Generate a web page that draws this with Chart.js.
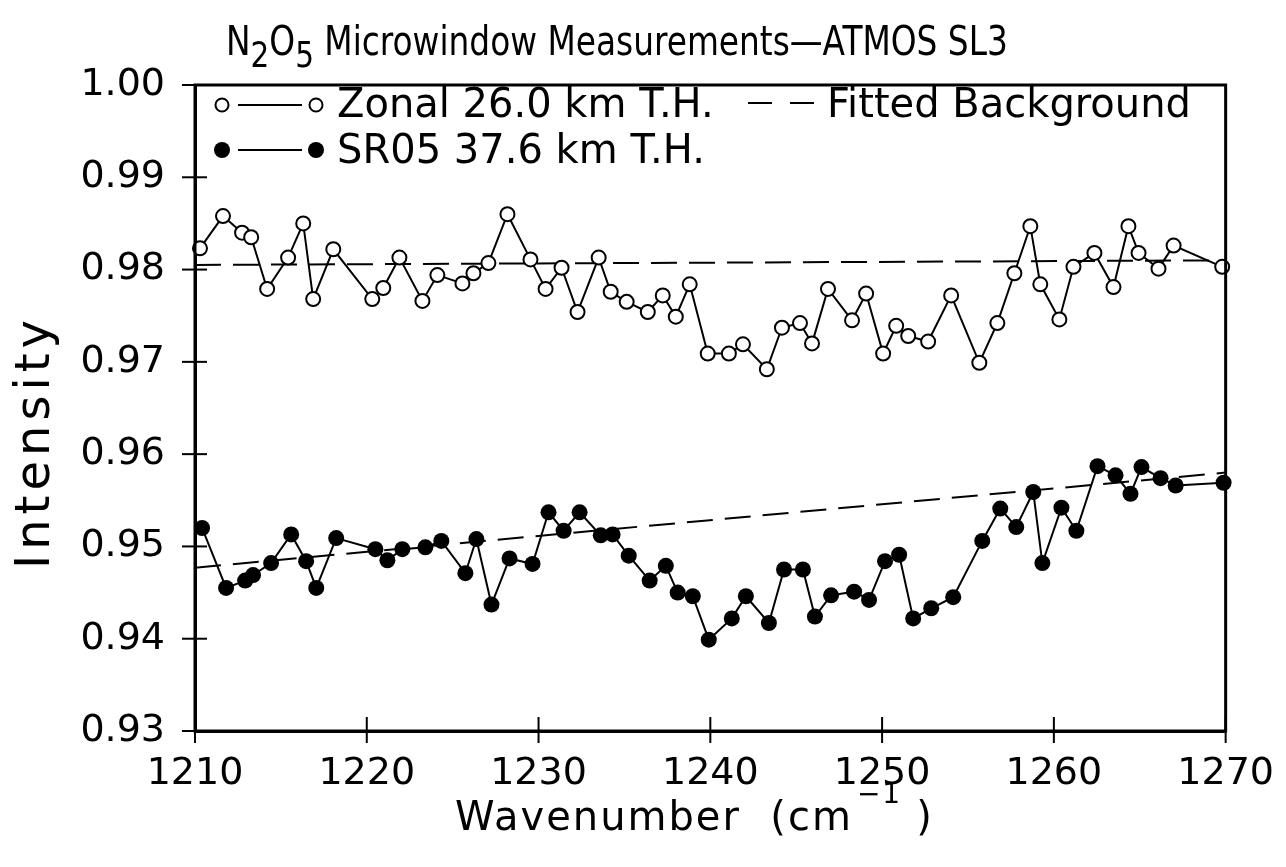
<!DOCTYPE html>
<html>
<head>
<meta charset="utf-8">
<script src="https://cdn.jsdelivr.net/npm/chart.js@4.4.1/dist/chart.umd.min.js"></script>
<style>
  html,body{margin:0;padding:0;background:#fff;}
  #wrap{width:1286px;height:867px;position:relative;}
</style>
</head>
<body>
<div id="wrap"><canvas id="c"></canvas></div>
<script>
// Zonal 26.0 km T.H. (open circles)
const zonalX = [1210.29,1211.63,1212.74,1213.27,1214.20,1215.42,1216.30,1216.88,1218.05,1220.32,
  1220.96,1221.90,1223.24,1224.11,1225.57,1226.21,1227.08,1228.19,1229.53,1230.41,
  1231.34,1232.27,1233.50,1234.20,1235.13,1236.36,1237.23,1237.99,1238.80,1239.85,
  1241.08,1241.90,1243.29,1244.17,1245.22,1245.92,1246.85,1248.25,1249.07,1250.06,
  1250.82,1251.52,1252.68,1254.02,1255.66,1256.71,1257.70,1258.63,1259.21,1260.32,
  1261.14,1262.36,1263.47,1264.34,1264.93,1266.09,1266.97,1269.80];
const zonalY = [0.9823,0.9858,0.9840,0.9835,0.9779,0.9813,0.9850,0.9768,0.9822,0.9768,
  0.9780,0.9813,0.9766,0.9794,0.9785,0.9796,0.9807,0.9860,0.9811,0.9779,
  0.9802,0.9754,0.9813,0.9776,0.9765,0.9754,0.9772,0.9749,0.9784,0.9709,
  0.9709,0.9719,0.9692,0.9737,0.9742,0.9720,0.9779,0.9745,0.9774,0.9709,
  0.9739,0.9728,0.9722,0.9772,0.9699,0.9742,0.9796,0.9847,0.9784,0.9746,
  0.9803,0.9818,0.9781,0.9847,0.9818,0.9801,0.9826,0.9803];

// SR05 37.6 km T.H. (filled circles)
const srX = [1210.41,1211.81,1212.92,1213.38,1214.43,1215.60,1216.47,1217.06,1218.22,1220.50,
  1221.20,1222.07,1223.41,1224.34,1225.74,1226.38,1227.26,1228.31,1229.65,1230.58,
  1231.46,1232.39,1233.62,1234.31,1235.25,1236.47,1237.41,1238.10,1238.98,1239.91,
  1241.25,1242.07,1243.41,1244.29,1245.39,1246.09,1247.03,1248.37,1249.24,1250.17,
  1250.99,1251.81,1252.86,1254.14,1255.83,1256.88,1257.81,1258.80,1259.33,1260.44,
  1261.31,1262.54,1263.59,1264.46,1265.10,1266.21,1267.09,1269.88];
const srY = [0.9520,0.9455,0.9463,0.9469,0.9482,0.9513,0.9484,0.9455,0.9509,0.9497,
  0.9485,0.9497,0.9499,0.9506,0.9471,0.9508,0.9437,0.9487,0.9481,0.9537,
  0.9517,0.9537,0.9512,0.9513,0.9490,0.9463,0.9479,0.9450,0.9446,0.9399,
  0.9422,0.9446,0.9417,0.9475,0.9475,0.9424,0.9447,0.9451,0.9442,0.9484,
  0.9491,0.9422,0.9433,0.9445,0.9506,0.9541,0.9521,0.9559,0.9482,0.9542,
  0.9517,0.9587,0.9577,0.9557,0.9586,0.9574,0.9566,0.9569];

// fitted backgrounds
const fitX = [1210, 1270];
const zonalFit = [0.9805, 0.9810];
const srFit = [0.9477, 0.9580];

const xTicks = [1210,1220,1230,1240,1250,1260,1270];
const yTicks = [0.93,0.94,0.95,0.96,0.97,0.98,0.99,1.00];

const FONT = 'DejaVu Sans';
const pts = (xs, ys) => xs.map((x,i)=>({x, y:ys[i]}));

const extras = {
  id:'extras',
  beforeDraw(chart){
    const ctx=chart.ctx;
    ctx.save(); ctx.fillStyle='#fff'; ctx.fillRect(0,0,chart.width,chart.height); ctx.restore();
  },
  afterDraw(chart){
    const ctx=chart.ctx, a=chart.chartArea;
    const xs=chart.scales.x, ys=chart.scales.y;
    ctx.save();
    ctx.strokeStyle='#000'; ctx.fillStyle='#000';
    // frame
    ctx.lineWidth=3;
    ctx.strokeRect(a.left, a.top, a.right-a.left, a.bottom-a.top);
    // tick marks crossing the axes
    ctx.lineWidth=2;
    yTicks.forEach(v=>{
      const y=ys.getPixelForValue(v);
      ctx.beginPath(); ctx.moveTo(a.left-13,y); ctx.lineTo(a.left+12,y); ctx.stroke();
    });
    xTicks.forEach(v=>{
      const x=xs.getPixelForValue(v);
      ctx.beginPath(); ctx.moveTo(x,a.bottom+12); ctx.lineTo(x,a.bottom-14); ctx.stroke();
    });

    // title with subscripts (narrow lettering like the original)
    ctx.textBaseline='alphabetic'; ctx.textAlign='left';
    ctx.save();
    ctx.translate(226,0); ctx.scale(0.82,1);
    let tx=0; const tb=55;
    const seg=(t,size,dy)=>{ ctx.font=size+'px '+FONT; ctx.fillText(t,tx,tb+dy); tx+=ctx.measureText(t).width; };
    seg('N',40,0); seg('2',36,12); seg('O',40,0); seg('5',36,12);
    seg(' Microwindow Measurements\u2014ATMOS SL3',40,0);
    ctx.restore();

    // legend
    ctx.lineWidth=2;
    const legRow=(y,filled)=>{
      ctx.beginPath(); ctx.moveTo(238,y); ctx.lineTo(302,y); ctx.stroke();
      [222,316].forEach(cx=>{
        ctx.beginPath(); ctx.arc(cx,y,filled?8:6.5,0,Math.PI*2);
        if(filled){ ctx.fill(); } else { ctx.fillStyle='#fff'; ctx.fill(); ctx.fillStyle='#000'; ctx.stroke(); }
      });
    };
    legRow(105,false); legRow(150,true);
    ctx.font='40px '+FONT;
    ctx.fillText('Zonal 26.0 km T.H.',337,117);
    ctx.fillText('SR05 37.6 km T.H.',337,163);
    ctx.setLineDash([24,18]);
    ctx.beginPath(); ctx.moveTo(748,103); ctx.lineTo(814,103); ctx.stroke();
    ctx.setLineDash([]);
    ctx.fillText('Fitted Background',827,117);

    // y axis title
    ctx.save();
    ctx.translate(49,442); ctx.rotate(-Math.PI/2);
    ctx.font='48px '+FONT; ctx.textAlign='center';
    ctx.letterSpacing='5px';
    ctx.fillText('Intensity',0,0);
    ctx.restore();

    // x axis title
    ctx.letterSpacing='2px';
    let bx=455;
    ctx.font='40px '+FONT;
    ctx.fillText('Wavenumber  (cm',bx,830); bx+=ctx.measureText('Wavenumber  (cm').width+4;
    ctx.font='28px '+FONT;
    ctx.fillText('\u22121',bx,803); bx+=ctx.measureText('\u22121').width+14;
    ctx.font='40px '+FONT;
    ctx.fillText(')',bx,830);
    ctx.restore();
  }
};

new Chart(document.getElementById('c'),{
  type:'scatter',
  data:{datasets:[
    {label:'Zonal 26.0 km T.H.', data:pts(zonalX,zonalY), showLine:true,
     borderColor:'#000', borderWidth:2, pointRadius:7, pointBorderWidth:2,
     pointBackgroundColor:'#fff', pointBorderColor:'#000', clip:false, order:1},
    {label:'SR05 37.6 km T.H.', data:pts(srX,srY), showLine:true,
     borderColor:'#000', borderWidth:2, pointRadius:8, pointBorderWidth:0,
     pointBackgroundColor:'#000', pointBorderColor:'#000', clip:false, order:1},
    {label:'Fitted Background', data:pts(fitX,zonalFit), showLine:true,
     borderColor:'#000', borderWidth:2, borderDash:[26,12], pointRadius:0, order:2},
    {label:'Fitted Background SR05', data:pts(fitX,srFit), showLine:true,
     borderColor:'#000', borderWidth:2, borderDash:[26,12], pointRadius:0, order:2}
  ]},
  options:{
    responsive:true, maintainAspectRatio:false, animation:false,
    layout:{padding:{left:0,right:55,top:85,bottom:0}},
    plugins:{legend:{display:false}, tooltip:{enabled:false}},
    scales:{
      x:{type:'linear', min:1210, max:1270,
        afterBuildTicks:s=>{ s.ticks = xTicks.map(v=>({value:v})); },
        afterFit:s=>{ s.height=136; },
        grid:{display:false}, border:{display:true,color:'#000',width:3},
        ticks:{color:'#000', padding:12, maxRotation:0, font:{family:FONT,size:38}, callback:v=>String(v)}},
      y:{type:'linear', min:0.93, max:1.00,
        afterBuildTicks:s=>{ s.ticks = yTicks.map(v=>({value:v})); },
        afterFit:s=>{ s.width=195; },
        grid:{display:false}, border:{display:true,color:'#000',width:3},
        ticks:{color:'#000', padding:22, font:{family:FONT,size:38}, callback:v=>Number(v).toFixed(2)}}
    }
  },
  plugins:[extras]
});
</script>
</body>
</html>
